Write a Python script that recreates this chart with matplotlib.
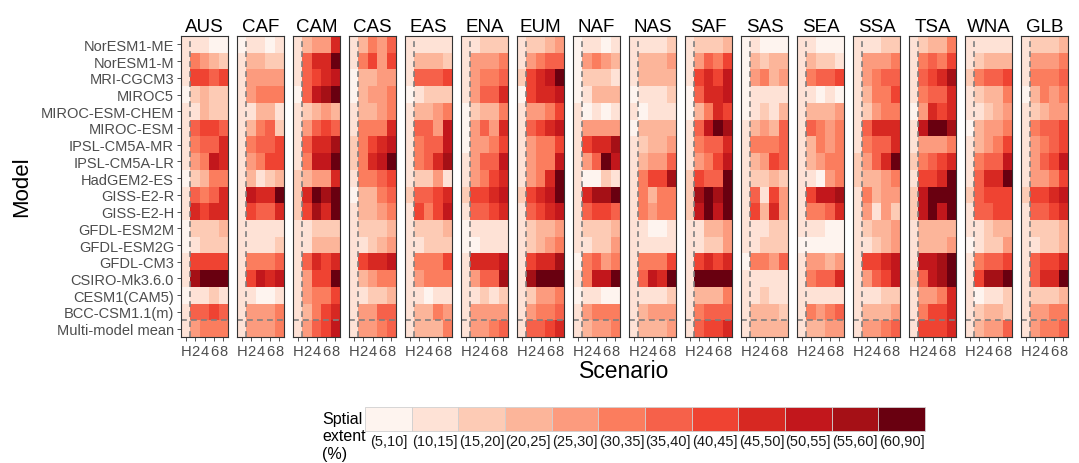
import matplotlib
matplotlib.use("Agg")
import matplotlib.pyplot as plt
from matplotlib.colors import ListedColormap, BoundaryNorm
from matplotlib.patches import Rectangle
import numpy as np

plt.rcParams['font.family'] = ['Liberation Sans', 'DejaVu Sans']

models = ["NorESM1-ME", "NorESM1-M", "MRI-CGCM3", "MIROC5", "MIROC-ESM-CHEM",
          "MIROC-ESM", "IPSL-CM5A-MR", "IPSL-CM5A-LR", "HadGEM2-ES", "GISS-E2-R",
          "GISS-E2-H", "GFDL-ESM2M", "GFDL-ESM2G", "GFDL-CM3", "CSIRO-Mk3.6.0",
          "CESM1(CAM5)", "BCC-CSM1.1(m)", "Multi-model mean"]
scenarios = ["H", "2", "4", "6", "8"]
class_labels = ["(5,10]", "(10,15]", "(15,20]", "(20,25]", "(25,30]", "(30,35]",
                "(35,40]", "(40,45]", "(45,50]", "(50,55]", "(55,60]", "(60,90]"]
class_colors = ['#FEF4EF', '#FEE2D6', '#FDCBB5', '#FCB59A', '#FC9B7E', '#FB7D5E',
                '#F6614A', '#EF4332', '#D72822', '#C2171C', '#A51016', '#690010']

# spatial-extent class (1..12) per model (rows) x scenario (H,2,4,6,8)
AUS = [[2,2,2,1,1],[2,6,5,4,3],[2,8,8,7,8],[1,3,4,3,3],[2,2,4,3,3],[2,7,8,8,7],
       [2,6,7,7,9],[2,5,6,10,9],[1,3,4,6,6],[2,7,6,7,9],[2,9,8,9,9],[1,3,3,3,4],
       [1,2,3,3,3],[2,8,8,8,8],[2,11,12,12,12],[1,2,2,3,2],[2,7,7,8,7],[2,5,6,6,6]]
CAF = [[1,2,2,1,2],[2,4,4,3,3],[2,5,5,5,5],[2,5,6,6,6],[2,2,4,4,2],[2,4,6,7,3],
       [2,6,7,7,8],[2,5,6,8,8],[2,4,2,3,4],[2,10,9,9,12],[2,8,7,7,9],[2,2,2,2,2],
       [2,2,2,2,3],[2,6,6,6,7],[2,8,10,9,10],[2,2,1,1,2],[2,5,5,5,6],[2,5,5,5,6]]
CAM = [[2,4,5,5,9],[2,7,9,9,12],[2,7,8,9,10],[1,7,10,11,12],[2,3,4,5,4],[2,5,7,8,7],
       [2,7,9,9,11],[2,6,10,10,12],[3,4,5,5,9],[3,9,12,11,12],[3,8,11,9,12],[2,2,3,3,3],
       [2,2,4,4,4],[2,7,9,8,9],[2,5,8,8,12],[2,5,6,6,8],[2,4,6,8,9],[2,5,7,8,10]]
CAS = [[2,4,6,5,7],[2,6,8,5,8],[1,4,4,5,5],[1,4,5,5,6],[2,4,4,5,6],[2,6,6,6,9],
       [3,6,8,9,10],[3,6,9,10,12],[2,6,6,7,8],[1,4,4,6,7],[2,4,4,5,6],[2,3,3,3,4],
       [2,2,3,4,5],[2,8,9,9,10],[2,4,5,6,6],[2,2,3,3,4],[2,5,5,7,7],[2,5,5,6,7]]
EAS = [[2,2,2,2,2],[2,4,4,4,3],[2,7,7,7,8],[1,2,3,3,3],[2,4,4,5,6],[2,7,7,5,10],
       [2,6,7,7,10],[2,6,7,9,11],[2,3,3,5,2],[3,7,7,8,9],[2,8,6,8,10],[2,3,3,3,4],
       [2,2,3,3,3],[2,6,6,6,8],[2,5,6,6,6],[2,2,1,2,2],[2,4,4,6,5],[2,4,4,4,6]]
ENA = [[2,2,3,3,3],[2,5,5,5,6],[2,5,6,6,7],[2,5,7,7,9],[1,3,4,4,6],[1,5,7,5,9],
       [1,5,5,6,8],[2,5,7,7,10],[2,5,6,8,9],[3,8,8,9,10],[2,7,7,8,9],[1,2,2,2,2],
       [1,1,2,2,2],[2,9,9,9,10],[2,5,7,7,11],[2,2,3,2,3],[2,5,5,5,5],[2,5,5,6,7]]
EUM = [[2,3,3,4,5],[2,5,6,7,7],[3,8,9,10,12],[1,8,9,9,10],[2,5,5,6,8],[2,7,8,9,10],
       [2,5,6,6,8],[2,5,6,6,10],[2,5,6,9,12],[3,8,9,10,12],[2,7,8,9,10],[2,3,4,4,5],
       [2,3,4,5,6],[2,8,9,9,11],[2,11,12,12,12],[2,3,5,5,6],[2,5,6,6,7],[2,7,7,8,9]]
NAF = [[1,2,2,1,2],[1,5,6,5,4],[1,3,3,3,2],[1,2,4,4,4],[2,1,2,1,2],[2,5,5,5,5],
       [2,8,9,9,11],[2,5,7,12,10],[2,1,1,3,2],[2,9,11,11,12],[2,7,8,8,7],[2,3,3,3,4],
       [2,2,3,3,5],[1,6,7,5,6],[2,6,10,10,12],[1,2,2,1,1],[2,5,6,6,6],[2,4,5,5,6]]
NAS = [[2,2,2,2,3],[2,4,4,4,5],[2,4,4,4,4],[1,2,2,2,3],[2,1,2,2,2],[1,4,4,4,4],
       [2,3,4,4,5],[2,4,5,5,7],[2,6,8,8,11],[2,6,4,6,6],[2,6,5,6,6],[2,2,1,1,2],
       [2,2,2,2,2],[2,6,6,6,8],[2,7,10,9,12],[2,2,2,2,3],[2,4,5,5,5],[2,4,4,4,5]]
SAF = [[2,3,3,3,4],[2,5,7,6,8],[2,8,9,8,10],[1,7,9,9,10],[1,4,6,9,8],[2,7,10,12,11],
       [2,6,7,7,9],[2,5,6,8,10],[3,8,7,7,12],[3,11,12,11,12],[3,10,12,10,12],[2,2,4,4,5],
       [2,2,3,3,5],[2,8,9,8,9],[2,12,12,12,12],[2,4,4,4,6],[2,6,7,7,7],[2,7,8,8,9]]
SAS = [[1,2,1,1,1],[1,4,3,4,4],[1,5,6,4,5],[1,2,2,2,2],[1,2,3,2,4],[2,4,5,4,7],
       [2,6,6,6,7],[2,4,5,8,7],[2,3,3,4,3],[2,7,2,8,5],[2,8,4,9,5],[2,2,2,3,3],
       [2,2,3,3,3],[1,6,6,5,7],[2,2,2,2,2],[2,2,3,2,2],[2,4,4,4,3],[2,4,4,4,4]]
SEA = [[2,2,1,1,1],[2,4,3,3,2],[2,6,7,7,8],[2,2,1,2,1],[2,4,4,4,5],[2,7,6,5,6],
       [2,4,6,5,6],[2,4,5,6,6],[2,2,1,5,6],[2,8,10,10,11],[2,6,6,7,9],[2,2,2,1,1],
       [1,1,1,1,1],[2,5,5,4,5],[2,6,7,7,9],[2,2,2,2,2],[2,6,5,6,7],[2,4,4,5,5]]
SSA = [[2,2,2,3,3],[2,5,5,5,6],[2,5,6,7,7],[2,4,6,6,8],[2,3,5,6,6],[2,7,9,9,9],
       [2,6,7,7,9],[3,5,7,9,12],[3,4,4,5,6],[2,6,4,5,5],[2,5,2,5,3],[2,3,4,4,5],
       [2,2,3,4,5],[2,8,8,9,10],[2,5,7,8,10],[2,2,2,3,3],[2,4,4,4,5],[2,5,5,6,7]]
TSA = [[2,3,4,4,6],[2,6,7,6,8],[2,7,8,9,11],[2,6,7,7,9],[1,5,9,8,9],[2,10,12,12,11],
       [2,5,5,5,6],[3,6,7,8,9],[2,8,8,9,12],[3,10,12,12,12],[3,10,12,10,12],[2,4,4,4,4],
       [2,4,4,4,5],[2,10,10,11,12],[3,7,10,11,12],[2,5,5,6,9],[2,6,8,8,9],[2,8,8,8,9]]
WNA = [[2,2,2,2,2],[2,3,4,4,4],[3,6,7,7,8],[2,3,4,4,6],[2,2,3,4,5],[1,4,5,5,6],
       [2,4,5,6,8],[2,6,7,7,10],[2,7,9,9,12],[3,7,8,8,8],[2,7,7,8,8],[2,2,3,4,4],
       [1,2,3,3,5],[2,6,7,7,8],[2,8,11,11,12],[2,1,2,2,3],[2,3,4,4,3],[2,4,5,5,7]]
GLB = [[2,3,3,3,4],[2,5,5,5,6],[2,6,6,6,7],[1,4,6,5,6],[2,3,4,5,5],[2,6,7,7,8],
       [2,5,6,7,8],[2,5,7,8,10],[2,5,5,6,8],[3,8,8,9,10],[2,7,7,8,9],[2,3,3,3,4],
       [2,2,3,3,4],[2,7,8,8,9],[2,7,9,9,12],[2,3,3,3,4],[2,5,5,6,6],[2,5,6,6,7]]

region_names = ["AUS", "CAF", "CAM", "CAS", "EAS", "ENA", "EUM", "NAF",
                "NAS", "SAF", "SAS", "SEA", "SSA", "TSA", "WNA", "GLB"]
region_data = [AUS, CAF, CAM, CAS, EAS, ENA, EUM, NAF,
               NAS, SAF, SAS, SEA, SSA, TSA, WNA, GLB]

W, H = 1079, 464
fig = plt.figure(figsize=(W / 100, H / 100), dpi=100)
cmap = ListedColormap(class_colors)
norm = BoundaryNorm(np.arange(0.5, 13.5, 1), cmap.N)

def fx(px):
    return px / W

def fy(py):
    return 1 - py / H

top, bot = 37, 338
pw, step, x0 = 47, 56, 181
grey_txt = '#4D4D4D'
for i, (name, dat) in enumerate(zip(region_names, region_data)):
    left = x0 + step * i
    ax = fig.add_axes([fx(left), fy(bot), pw / W, (bot - top) / H])
    arr = np.array(dat)
    ax.pcolormesh(np.arange(6), np.arange(19), arr, cmap=cmap, norm=norm)
    ax.set_xlim(0, 5)
    ax.set_ylim(18, 0)
    ax.axvline(1, color='#808080', ls=(0, (3.5, 2.5)), lw=1.2)
    ax.axhline(17, color='#808080', ls=(0, (3.5, 2.5)), lw=1.2)
    ax.set_xticks(np.arange(5) + 0.5)
    ax.set_xticklabels(scenarios, fontsize=10.6, color=grey_txt)
    ax.tick_params(axis='x', length=3, width=0.6, color='#333333', pad=2)
    if i == 0:
        ax.set_yticks(np.arange(18) + 0.5)
        ax.set_yticklabels(models, fontsize=10.5, color=grey_txt)
        ax.tick_params(axis='y', length=3, width=0.6, color='#333333', pad=2)
    else:
        ax.set_yticks([])
    for s in ax.spines.values():
        s.set_color('#333333')
        s.set_linewidth(0.8)
    ax.set_title(name, fontsize=13.5, pad=3.5)

fig.text(fx(22), fy(187), "Model", rotation=90, fontsize=16, ha='center', va='center')
fig.text(fx(624), fy(372), "Scenario", fontsize=16.5, ha='center', va='center')

# legend
lx0, lx1, ly0, ly1 = 365, 925, 408, 432
bw = (lx1 - lx0) / len(class_colors)
for k, (c, lab) in enumerate(zip(class_colors, class_labels)):
    fig.patches.append(Rectangle((fx(lx0 + k * bw), fy(ly1)), bw / W, (ly1 - ly0) / H,
                                 transform=fig.transFigure, facecolor=c,
                                 edgecolor='#d0d0d0', lw=0.6))
    fig.text(fx(lx0 + (k + 0.5) * bw), fy(442), lab, fontsize=10.5, ha='center',
             va='center', color='#1a1a1a')
fig.text(fx(322), fy(437), "Sptial\nextent\n(%)", fontsize=11.5, ha='left', va='center',
         linespacing=1.2)

fig.savefig("out.png", dpi=100)
